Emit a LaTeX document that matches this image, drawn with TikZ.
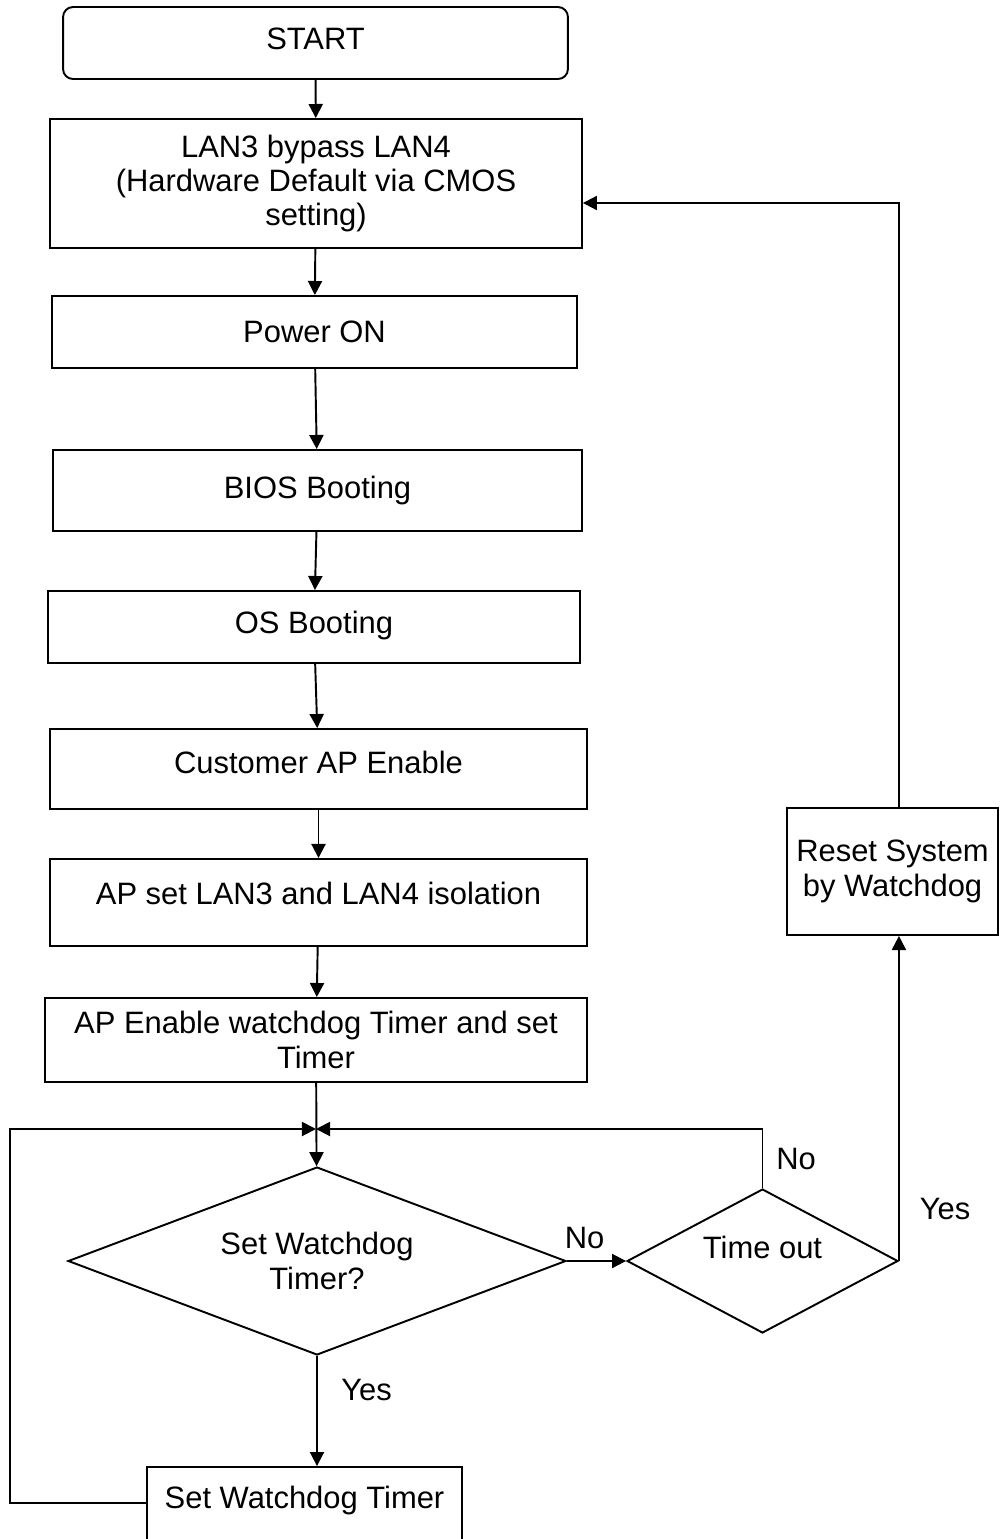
\documentclass[tikz,border=0pt]{standalone}
\usepackage{fontspec}
\setmainfont{Liberation Sans}
\usetikzlibrary{shapes.geometric,arrows.meta}

\begin{document}
\begin{tikzpicture}[x=0.02cm, y=-0.02cm, line width=1.1pt,
    every node/.style={font=\fontsize{17.6}{19.5}\selectfont},
    box/.style={draw, rectangle, align=center, inner sep=0pt},
    decision/.style={draw, diamond, align=center, inner sep=0pt},
    lift/.style={text height=12.6pt, text depth=#1},
    arr/.style={-{Triangle[length=8pt,width=8pt]}}]
    \useasboundingbox (0,0) rectangle (1000,1539);
    \node[box, rounded corners=0.2cm, minimum width=10.1cm, minimum height=1.44cm, lift=5.7pt] (start) at (315.5,43) {START};
    \node[box, minimum width=10.64cm, minimum height=2.58cm] (lan) at (316,183.5) {LAN3 bypass LAN4\\(Hardware Default via CMOS\\setting)};
    \node[box, minimum width=10.5cm, minimum height=1.44cm, lift=1pt] (power) at (314.5,332) {Power ON};
    \node[box, minimum width=10.58cm, minimum height=1.62cm, lift=3.4pt] (bios) at (317.5,490.5) {BIOS Booting};
    \node[box, minimum width=10.64cm, minimum height=1.44cm, lift=5.7pt] (os) at (314,627) {OS Booting};
    \node[box, minimum width=10.74cm, minimum height=1.6cm, lift=8pt] (cust) at (318.5,769) {Customer AP Enable};
    \node[box, minimum width=10.74cm, minimum height=1.74cm, lift=10.2pt] (apset) at (318.5,902.5) {AP set LAN3 and LAN4 isolation};
    \node[box, minimum width=10.84cm, minimum height=1.68cm] (apwdt) at (316,1040) {AP Enable watchdog Timer and set\\Timer};
    \node[decision, aspect=2.65, minimum width=9.96cm, minimum height=3.76cm] (setq) at (317,1261) {Set Watchdog\\Timer?};
    \node[decision, aspect=1.88, minimum width=5.42cm, minimum height=2.88cm, lift=16pt] (tout) at (762.5,1261) {Time out};
    \node[box, minimum width=4.22cm, minimum height=2.54cm] (reset) at (892.5,871.5) {Reset System\\by Watchdog};
    \node[box, minimum width=6.3cm, minimum height=2.2cm, lift=28.4pt] (setwdt) at (304.5,1522) {Set Watchdog Timer};
    \coordinate (join) at (316,1129);
    \coordinate (lft) at (10,1129);

    % main chain
    \foreach \a/\b in {start/lan, lan/power, power/bios, bios/os, os/cust, cust/apset, apset/apwdt, apwdt/setq}
        \draw[arr] (\a) -- (\b);

    \draw[arr] (setq.east) -- node[pos=0.3, above=3pt] {No} (tout.west);
    \draw[arr] (tout.north) -- node[right=4pt] {No} (tout.north |- join) -- (join);
    \draw[arr] (tout.east) -- node[pos=0.16, right=8pt] {Yes} (tout.east |- reset.south);
    \draw[arr] (reset.north -| tout.east) |- ([yshift=-0.39cm]lan.east);
    \draw[arr] (setq.south) -- node[pos=0.31, right=10pt] {Yes} (setq.south |- setwdt.north);
    \draw[arr] ([yshift=0.38cm]setwdt.west) -| (lft) -- (join);
\end{tikzpicture}
\end{document}
